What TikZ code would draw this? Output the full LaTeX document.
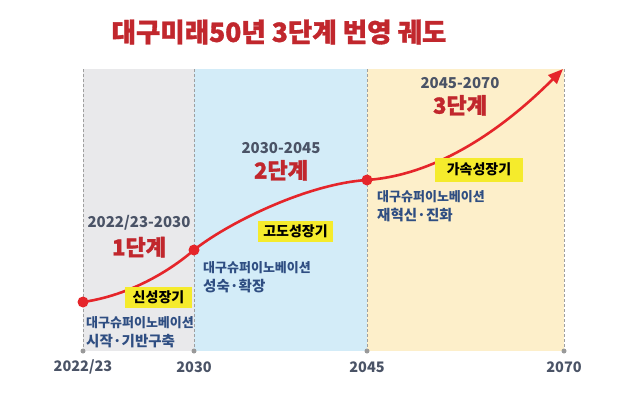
\documentclass[tikz,border=0pt]{standalone}
\usepackage{fontspec}
\setmainfont{Noto Sans CJK KR}
\newfontfamily\heavyfont{Noto Sans CJK KR}[FakeBold=1.2]
\usepackage{tikz}
\usetikzlibrary{arrows.meta,positioning}
\definecolor{titred}{HTML}{C1272D}
\definecolor{curvered}{HTML}{E5252A}
\definecolor{yeargray}{HTML}{4A5366}
\definecolor{inkblue}{HTML}{2F4E82}
\definecolor{tagyellow}{HTML}{F5EB2C}
\definecolor{bandgray}{HTML}{E9E9EB}
\definecolor{bandblue}{HTML}{D3ECF8}
\definecolor{bandyellow}{HTML}{FDEFCA}
\tikzset{
  band/.style={fill=#1, draw=none},
  guide/.style={draw=gray!75, line width=0.8pt, dash pattern=on 3pt off 2pt},
  tickdot/.style={circle, fill=gray!80, inner sep=0pt, minimum size=5pt},
  yearlbl/.style={font=\fontsize{14.5}{16}\selectfont\bfseries, text=yeargray, inner sep=0pt},
  rangelbl/.style={font=\fontsize{15}{17}\selectfont\bfseries, text=yeargray, inner sep=0pt},
  stagelbl/.style={font=\fontsize{22}{24}\selectfont\heavyfont\bfseries, text=titred, inner sep=0pt},
  tag/.style={rectangle, fill=tagyellow, font=\fontsize{14}{15}\selectfont\bfseries,
              minimum height=21pt, minimum width=#1, inner sep=0pt},
  note/.style={align=left, text=inkblue, font=\fontsize{13}{19}\selectfont\bfseries, inner sep=0pt},
  dot/.style={circle, fill=curvered, inner sep=0pt, minimum size=11pt},
  curve/.style={-{Triangle[length=15pt,width=12pt]}, line width=2.6pt, draw=curvered},
}
\newcommand\notetwo[1]{{\fontsize{14.5}{16}\selectfont #1}}
\begin{document}
\begin{tikzpicture}[x=1pt, y=-1pt, node distance=6pt]
  \useasboundingbox (0,0) rectangle (640,397);
  \node[font=\fontsize{26.5}{28}\selectfont\heavyfont\bfseries, text=titred] (title) at (279,32) {대구미래50년 3단계 번영 궤도};
  % bands
  \fill[band=bandgray] (83,69) rectangle (194,351);
  \fill[band=bandblue] (194,69) rectangle (367,351);
  \fill[band=bandyellow] (367,69) rectangle (564,351);
  % year guides
  \coordinate (g1) at (83,69); \coordinate (g2) at (194,69); \coordinate (g3) at (367,69); \coordinate (g4) at (564,69);
  \node[tickdot] (k1) at (83,351) {}; \node[tickdot] (k2) at (194,351) {};
  \node[tickdot] (k3) at (367,351) {}; \node[tickdot] (k4) at (564,351) {};
  \draw[guide] (g1) -- (k1); \draw[guide] (g2) -- (k2); \draw[guide] (g3) -- (k3); \draw[guide] (g4) -- (k4);
  \node[yearlbl] (y1) at (83,367) {2022/23};
  \node[yearlbl] (y2) at (194,367) {2030};
  \node[yearlbl] (y3) at (367,367) {2045};
  \node[yearlbl] (y4) at (564,367) {2070};
  % stages
  \node[rangelbl] (r1) at (139,223) {2022/23-2030};
  \node[stagelbl, below=of r1] (s1) {1단계};
  \node[rangelbl] (r2) at (281,148) {2030-2045};
  \node[stagelbl, below=of r2] (s2) {2단계};
  \node[rangelbl] (r3) at (460,83) {2045-2070};
  \node[stagelbl, below=of r3] (s3) {3단계};
  % trajectory
  \node[dot] (d1) at (83,302) {};
  \node[dot] (d2) at (194,250) {};
  \node[dot] (d3) at (367,180) {};
  \coordinate (tip) at (563,69);
  \draw[curve] (d1.center) .. controls (125,296) and (165,275) .. (d2.center)
               .. controls (225,225) and (305,184) .. (d3.center)
               .. controls (450,174) and (520,112) .. (tip);
  \node[tag=67pt] (t1) at (158.5,297) {신성장기};
  \node[tag=75pt] (t2) at (295.5,231) {고도성장기};
  \node[tag=88pt, minimum height=24pt] (t3) at (479,169.5) {가속성장기};
  \node[note, anchor=west] (n1) at (86,332) {대구슈퍼이노베이션\\\notetwo{시작·기반구축}};
  \node[note, anchor=west] (n2) at (203,277.5) {대구슈퍼이노베이션\\\notetwo{성숙·확장}};
  \node[note, anchor=west] (n3) at (377,206) {대구슈퍼이노베이션\\\notetwo{재혁신·진화}};
\end{tikzpicture}
\end{document}
